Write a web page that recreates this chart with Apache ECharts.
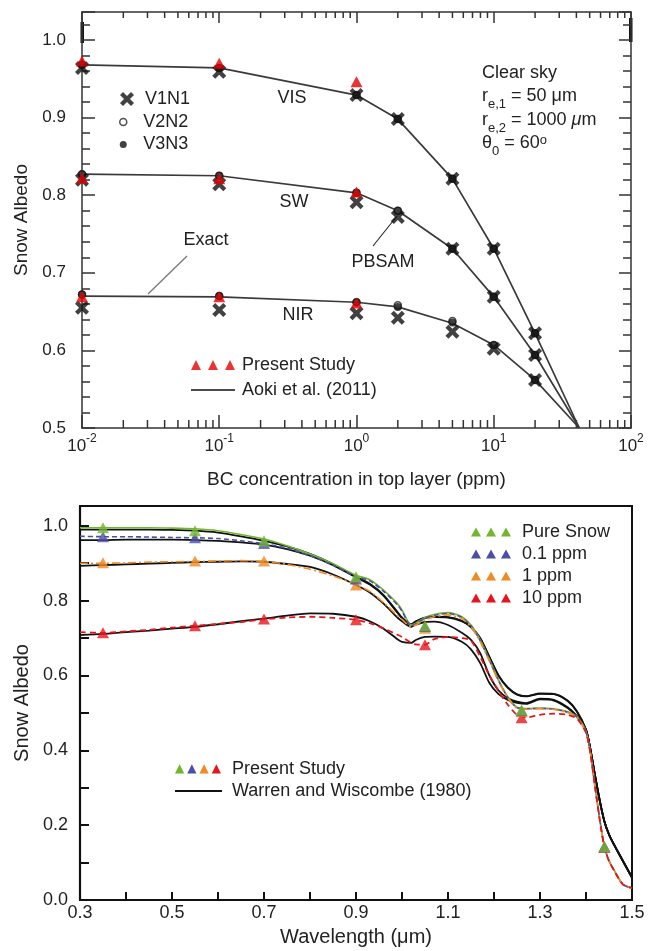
<!DOCTYPE html>
<html><head><meta charset="utf-8">
<script src="https://cdn.jsdelivr.net/npm/echarts@6/dist/echarts.min.js"></script>
<style>html,body{margin:0;padding:0;background:#fff}#c{width:648px;height:951px}</style>
</head><body><div id="c"></div>
<script>
// ===== Top panel: albedo vs BC concentration =====
const bcConc   = [0.01, 0.1, 1, 2, 5, 10, 20, 42];
const exactVIS = [0.968, 0.964, 0.929, 0.898, 0.821, 0.731, 0.622, 0.5];
const exactSW  = [0.827, 0.825, 0.803, 0.780, 0.731, 0.669, 0.594, 0.5];
const exactNIR = [0.670, 0.669, 0.662, 0.656, 0.635, 0.607, 0.562, 0.5];

const pbConc  = [0.01, 0.1, 1, 2, 5, 10, 20];
const v1n1VIS = [0.964, 0.959, 0.929, 0.898, 0.821, 0.731, 0.622];
const v1n1SW  = [0.820, 0.814, 0.791, 0.772, 0.731, 0.669, 0.594];
const v1n1NIR = [0.655, 0.652, 0.648, 0.642, 0.624, 0.602, 0.562];
const v2n2VIS = [0.968, 0.964, 0.929, 0.898, 0.821, 0.731, 0.622];
const v2n2SW  = [0.827, 0.825, 0.803, 0.780, 0.731, 0.669, 0.594];
const v2n2NIR = [0.672, 0.670, 0.662, 0.658, 0.638, 0.607, 0.562];
const v3n3VIS = [0.968, 0.964, 0.929, 0.898, 0.821, 0.731, 0.622];
const v3n3SW  = [0.827, 0.825, 0.803, 0.780, 0.731, 0.669, 0.594];
const v3n3NIR = [0.672, 0.670, 0.662, 0.656, 0.636, 0.607, 0.562];

const presentConc = [0.01, 0.1, 1];
const presentVIS  = [0.973, 0.970, 0.946];
const presentSW   = [0.822, 0.821, 0.804];
const presentNIR  = [0.669, 0.669, 0.661];

// ===== Bottom panel: spectral albedo =====
const wl = [0.30,0.35,0.40,0.45,0.50,0.55,0.60,0.65,0.70,0.75,0.80,0.85,0.90,0.93,0.96,0.99,1.00,1.02,1.03,1.05,1.07,1.10,1.13,1.15,1.17,1.19,1.21,1.23,1.25,1.27,1.30,1.33,1.36,1.38,1.40,1.41,1.42,1.43,1.44,1.45,1.46,1.48,1.50];
const psPure = [0.995,0.995,0.995,0.995,0.994,0.992,0.987,0.977,0.965,0.947,0.925,0.899,0.868,0.856,0.828,0.792,0.775,0.735,0.740,0.755,0.763,0.768,0.757,0.735,0.695,0.643,0.588,0.543,0.515,0.512,0.513,0.511,0.503,0.490,0.450,0.390,0.300,0.215,0.142,0.105,0.082,0.042,0.032];
const ps01   = [0.972,0.971,0.971,0.970,0.969,0.968,0.966,0.960,0.952,0.940,0.920,0.895,0.864,0.853,0.825,0.789,0.772,0.733,0.738,0.753,0.761,0.766,0.755,0.733,0.693,0.641,0.586,0.541,0.514,0.511,0.512,0.510,0.502,0.489,0.449,0.390,0.300,0.215,0.142,0.105,0.082,0.042,0.032];
const ps1    = [0.900,0.900,0.901,0.903,0.904,0.905,0.906,0.907,0.905,0.897,0.884,0.866,0.843,0.825,0.795,0.760,0.750,0.730,0.735,0.749,0.757,0.762,0.752,0.730,0.690,0.638,0.584,0.540,0.512,0.510,0.511,0.509,0.501,0.488,0.448,0.390,0.300,0.215,0.142,0.105,0.082,0.042,0.032];
const ps10   = [0.716,0.714,0.718,0.722,0.728,0.733,0.738,0.743,0.750,0.755,0.757,0.754,0.749,0.740,0.726,0.709,0.703,0.687,0.683,0.682,0.697,0.703,0.700,0.693,0.650,0.600,0.558,0.522,0.495,0.488,0.495,0.498,0.495,0.485,0.447,0.388,0.298,0.213,0.140,0.104,0.081,0.042,0.032];
const wwPure = [0.990,0.990,0.990,0.990,0.989,0.987,0.982,0.972,0.960,0.945,0.925,0.898,0.864,0.845,0.815,0.770,0.755,0.737,0.745,0.755,0.757,0.756,0.746,0.730,0.700,0.650,0.600,0.568,0.550,0.545,0.552,0.551,0.533,0.505,0.455,0.400,0.330,0.265,0.210,0.175,0.150,0.105,0.060];
const ww01   = [0.962,0.962,0.963,0.963,0.963,0.962,0.960,0.956,0.950,0.938,0.920,0.895,0.862,0.843,0.813,0.768,0.753,0.736,0.744,0.754,0.756,0.755,0.745,0.729,0.699,0.649,0.599,0.567,0.549,0.544,0.551,0.550,0.532,0.504,0.455,0.400,0.330,0.265,0.210,0.175,0.150,0.105,0.060];
const ww1    = [0.893,0.895,0.897,0.899,0.901,0.903,0.904,0.905,0.904,0.898,0.890,0.870,0.842,0.822,0.792,0.755,0.745,0.730,0.736,0.743,0.744,0.735,0.714,0.695,0.660,0.600,0.560,0.540,0.530,0.526,0.538,0.535,0.515,0.492,0.455,0.400,0.330,0.265,0.210,0.175,0.150,0.105,0.060];
const ww10   = [0.708,0.711,0.716,0.720,0.725,0.730,0.737,0.745,0.752,0.760,0.766,0.765,0.757,0.745,0.725,0.697,0.690,0.687,0.695,0.703,0.704,0.703,0.690,0.670,0.633,0.580,0.550,0.535,0.527,0.524,0.536,0.533,0.513,0.490,0.455,0.400,0.330,0.265,0.210,0.175,0.150,0.105,0.060];

const triWl     = [0.35, 0.55, 0.70, 0.90, 1.05, 1.26, 1.44];
const triPure   = [0.995, 0.987, 0.960, 0.864, 0.733, 0.508, 0.142];
const tri01     = [0.971, 0.968, 0.953, 0.858, 0.731, 0.506, 0.142];
const tri1      = [0.901, 0.906, 0.906, 0.842, 0.726, 0.503, 0.142];
const tri10     = [0.714, 0.733, 0.751, 0.749, 0.682, 0.487, 0.140];

const topYTicks = {min: 0.5, max: 1.036, interval: 0.1};
const botYTicks = {min: 0, max: 1.053, interval: 0.2};
const botXTicks = {min: 0.3, max: 1.5, interval: 0.1};

// ---------------------------------------------------
const FONT = '"Liberation Sans", Arial, Helvetica, sans-serif';
const pair = (xs, ys) => xs.map((x, i) => [x, ys[i]]);
const logMinor = [];
for (let e = -2; e < 2; e++) for (let m = 2; m <= 9; m++) logMinor.push(+(m * Math.pow(10, e)).toPrecision(3));

const C_GREEN = '#72b62e', C_BLUE = '#4b4fa6', C_ORANGE = '#f08a24', C_RED = '#e8141b';
const AX = '#333';
const xPath = 'path://M0,3L3,0L7,4L11,0L14,3L10,7L14,11L11,14L7,10L3,14L0,11L4,7Z';
const tri3 = 'path://M0,10L5,0L10,10Z M17,10L22,0L27,10Z M34,10L39,0L44,10Z';
const tri3b = 'path://M0,9L5,0L10,9Z M15,9L20,0L25,9Z M30,9L35,0L40,9Z';

const chart = echarts.init(document.getElementById('c'));

const topLine = (data) => ({
  type: 'line', name: 'Aoki et al. (2011)', xAxisIndex: 0, yAxisIndex: 0, data,
  showSymbol: false, symbol: 'none', color: '#3a3a3a',
  lineStyle: {color: '#3a3a3a', width: 1.7}, z: 2, silent: true
});
const botLine = (name, data, color, type, width, z) => ({
  type: 'line', name, xAxisIndex: 2, yAxisIndex: 2, data: pair(wl, data),
  showSymbol: false, symbol: 'none', smooth: 0.25, color,
  lineStyle: {color, width, type}, z, silent: true
});
const botTri = (name, data, color, z) => ({
  type: 'scatter', name, xAxisIndex: 2, yAxisIndex: 2, data: pair(triWl, data),
  symbol: 'triangle', symbolSize: [12, 11], color, itemStyle: {color}, z, silent: true
});

const option = {
  animation: false,
  backgroundColor: '#fff',
  textStyle: {fontFamily: FONT},
  grid: [
    {left: 82, top: 12, width: 549, height: 416},
    {left: 80, top: 506, width: 552, height: 394, show: true, borderColor: '#111', borderWidth: 2}
  ],
  xAxis: [
    {gridIndex: 0, type: 'log', logBase: 10, min: 0.01, max: 100,
     axisLine: {lineStyle: {color: AX, width: 1.5}},
     axisTick: {inside: true, length: 13, lineStyle: {color: AX, width: 1.5}},
     splitLine: {show: false},
     axisLabel: {margin: 5, color: '#222',
       formatter: v => '{b|10}{s|' + Math.round(Math.log10(v)) + '}',
       rich: {b: {fontSize: 17, lineHeight: 22, verticalAlign: 'bottom', fontFamily: FONT, color: '#222'},
              s: {fontSize: 12, lineHeight: 12, verticalAlign: 'top', fontFamily: FONT, color: '#222'}}},
     name: 'BC concentration in top layer (ppm)', nameLocation: 'middle', nameGap: 42,
     nameTextStyle: {fontSize: 19, color: '#222', fontFamily: FONT}},
    {gridIndex: 0, type: 'log', logBase: 10, min: 0.01, max: 100, position: 'top',
     axisLine: {lineStyle: {color: AX, width: 1.5}},
     axisTick: {inside: true, length: 11, lineStyle: {color: AX, width: 1.5}},
     axisLabel: {show: false}, splitLine: {show: false}},
    {gridIndex: 1, type: 'value', min: botXTicks.min, max: botXTicks.max, interval: botXTicks.interval,
     axisLine: {lineStyle: {color: '#111', width: 2.2}},
     axisTick: {inside: true, length: 8, lineStyle: {color: '#111', width: 2}},
     splitLine: {show: false},
     axisLabel: {margin: 4, fontSize: 18, color: '#222', fontFamily: FONT,
       formatter: v => (Math.round((v - 0.3) * 10) % 2 === 0 ? v.toFixed(1) : '')},
     name: 'Wavelength (μm)', nameLocation: 'middle', nameGap: 27,
     nameTextStyle: {fontSize: 20, color: '#222', fontFamily: FONT}}
  ],
  yAxis: [
    {gridIndex: 0, type: 'value', min: topYTicks.min, max: topYTicks.max, interval: topYTicks.interval,
     axisLine: {show: true, lineStyle: {color: AX, width: 1.5}},
     axisTick: {inside: true, length: 13, lineStyle: {color: AX, width: 1.5}},
     minorTick: {show: true, splitNumber: 5, length: 8, lineStyle: {color: AX, width: 1.5}},
     splitLine: {show: false},
     axisLabel: {margin: 16, fontSize: 17, color: '#222', fontFamily: FONT, showMaxLabel: false,
       formatter: v => v.toFixed(1)},
     name: 'Snow Albedo', nameLocation: 'middle', nameGap: 47, nameRotate: 90,
     nameTextStyle: {fontSize: 19, color: '#222', fontFamily: FONT}},
    {gridIndex: 0, type: 'value', position: 'right', min: topYTicks.min, max: topYTicks.max, interval: topYTicks.interval,
     axisLine: {show: true, lineStyle: {color: AX, width: 1.5}},
     axisTick: {inside: true, length: 12, lineStyle: {color: AX, width: 1.5}},
     minorTick: {show: true, splitNumber: 5, length: 8, lineStyle: {color: AX, width: 1.5}},
     splitLine: {show: false}, axisLabel: {show: false}},
    {gridIndex: 1, type: 'value', min: botYTicks.min, max: botYTicks.max, interval: botYTicks.interval,
     axisLine: {show: true, lineStyle: {color: '#111', width: 2.2}},
     axisTick: {inside: true, length: 9, lineStyle: {color: '#111', width: 2}},
     minorTick: {show: true, splitNumber: 2, length: 9, lineStyle: {color: '#111', width: 2}},
     splitLine: {show: false},
     axisLabel: {margin: 12, fontSize: 18, color: '#222', fontFamily: FONT, showMaxLabel: false,
       formatter: v => v.toFixed(1)},
     name: 'Snow Albedo', nameLocation: 'middle', nameGap: 46, nameRotate: 90,
     nameTextStyle: {fontSize: 20, color: '#222', fontFamily: FONT}}
  ],
  legend: [
    {data: [{name: 'V1N1'}], left: 120, top: 90, orient: 'vertical', padding: 0,
     itemWidth: 26, itemHeight: 14, selectedMode: false,
     textStyle: {fontSize: 18, color: '#222', fontFamily: FONT}},
    {data: [{name: 'V2N2', icon: 'circle', itemStyle: {color: '#fff', borderColor: '#222', borderWidth: 1.5}},
            {name: 'V3N3', icon: 'circle', itemStyle: {color: '#111'}}],
     left: 119, top: 113, orient: 'vertical', padding: 0, itemGap: 4.5,
     itemWidth: 24, itemHeight: 7, selectedMode: false,
     textStyle: {fontSize: 18, color: '#222', fontFamily: FONT, padding: [0, 0, 0, 3]}},
    {data: [{name: 'Present Study', icon: tri3},
            {name: 'Aoki et al. (2011)', icon: 'path://M0,0H44V1.6H0Z', itemStyle: {color: '#111'}}],
     left: 191, top: 356, orient: 'vertical', padding: 0, itemGap: 7,
     itemWidth: 44, itemHeight: 10, selectedMode: false,
     textStyle: {fontSize: 18, color: '#222', fontFamily: FONT, padding: [0, 0, 0, 2]}},
    {data: [{name: 'Pure Snow', icon: tri3b}, {name: '0.1 ppm', icon: tri3b},
            {name: '1 ppm', icon: tri3b}, {name: '10 ppm', icon: tri3b}],
     left: 471, top: 523, orient: 'vertical', padding: 0, itemGap: 4,
     itemWidth: 40, itemHeight: 9, selectedMode: false,
     textStyle: {fontSize: 18, color: '#222', fontFamily: FONT, padding: [0, 0, 0, 6]}},
    {data: [{name: 'Warren and Wiscombe (1980)', icon: 'path://M0,0H47V2H0Z', itemStyle: {color: '#111'}}],
     left: 175, top: 782, orient: 'vertical', padding: 0,
     itemWidth: 47, itemHeight: 2, selectedMode: false,
     textStyle: {fontSize: 18, color: '#222', fontFamily: FONT, padding: [0, 0, 0, 5]}}
  ],
  graphic: [
    {type: 'rect', shape: {x: 80.5, y: 22, width: 3.5, height: 21}, style: {fill: '#111'}},
    {type: 'rect', shape: {x: 629, y: 18, width: 3.5, height: 24}, style: {fill: '#111'}},
    {type: 'text', x: 292, y: 98, style: {text: 'VIS', fontSize: 18, fontFamily: FONT, fill: '#222', align: 'center', verticalAlign: 'middle'}},
    {type: 'text', x: 294, y: 202, style: {text: 'SW', fontSize: 18, fontFamily: FONT, fill: '#222', align: 'center', verticalAlign: 'middle'}},
    {type: 'text', x: 298, y: 315, style: {text: 'NIR', fontSize: 18, fontFamily: FONT, fill: '#222', align: 'center', verticalAlign: 'middle'}},
    {type: 'text', x: 206, y: 240, style: {text: 'Exact', fontSize: 18, fontFamily: FONT, fill: '#222', align: 'center', verticalAlign: 'middle'}},
    {type: 'line', shape: {x1: 187, y1: 256, x2: 148, y2: 294}, style: {stroke: '#777', lineWidth: 1.3}},
    {type: 'text', x: 383, y: 262, style: {text: 'PBSAM', fontSize: 18, fontFamily: FONT, fill: '#222', align: 'center', verticalAlign: 'middle'}},
    {type: 'line', shape: {x1: 397, y1: 216, x2: 373, y2: 246}, style: {stroke: '#222', lineWidth: 1.1}},
    {type: 'text', x: 482, y: 73, style: {text: 'Clear sky', fontSize: 18, fontFamily: FONT, fill: '#222', align: 'left', verticalAlign: 'middle'}},
    {type: 'text', x: 482, y: 99, style: {text: '{m|r}{s|e,1}{m| = 50 μm}', align: 'left', verticalAlign: 'middle',
      rich: {m: {fontSize: 18, lineHeight: 24, verticalAlign: 'top', fontFamily: FONT, fill: '#222'},
             s: {fontSize: 13, lineHeight: 12, verticalAlign: 'bottom', fontFamily: FONT, fill: '#222'}}}},
    {type: 'text', x: 482, y: 123, style: {text: '{m|r}{s|e,2}{m| = 1000 }{i|μ}{m|m}', align: 'left', verticalAlign: 'middle',
      rich: {m: {fontSize: 18, lineHeight: 24, verticalAlign: 'top', fontFamily: FONT, fill: '#222'},
             i: {fontSize: 18, lineHeight: 24, verticalAlign: 'top', fontFamily: FONT, fontStyle: 'italic', fill: '#222'},
             s: {fontSize: 13, lineHeight: 12, verticalAlign: 'bottom', fontFamily: FONT, fill: '#222'}}}},
    {type: 'text', x: 482, y: 146, style: {text: '{m|θ}{s|0}{m| = 60}{p|o}', align: 'left', verticalAlign: 'middle',
      rich: {m: {fontSize: 18, lineHeight: 24, verticalAlign: 'top', fontFamily: FONT, fill: '#222'},
             s: {fontSize: 13, lineHeight: 12, verticalAlign: 'bottom', fontFamily: FONT, fill: '#222'},
             p: {fontSize: 13, lineHeight: 12, verticalAlign: 'top', fontFamily: FONT, fill: '#222'}}}},
    {type: 'text', x: 175, y: 769, style: {text: '{g|▲}{b|▲}{o|▲}{r|▲}{t|Present Study}', align: 'left', verticalAlign: 'middle',
      rich: {g: {fontSize: 12, fontFamily: 'DejaVu Sans', fill: C_GREEN, padding: [0, 3, 0, 0]},
             b: {fontSize: 12, fontFamily: 'DejaVu Sans', fill: C_BLUE, padding: [0, 3, 0, 0]},
             o: {fontSize: 12, fontFamily: 'DejaVu Sans', fill: C_ORANGE, padding: [0, 3, 0, 0]},
             r: {fontSize: 12, fontFamily: 'DejaVu Sans', fill: C_RED, padding: [0, 3, 0, 0]},
             t: {fontSize: 18, fontFamily: FONT, fill: '#222', padding: [0, 0, 0, 8]}}}}
  ],
  series: [
    // log-axis minor ticks (2..9 per decade) on bottom and top of the upper panel
    {type: 'custom', xAxisIndex: 0, yAxisIndex: 0, silent: true, clip: false, z: 1,
     data: logMinor.map(v => [v, topYTicks.min]),
     renderItem: (params, api) => {
       const v = api.value(0);
       const b = api.coord([v, topYTicks.min]);
       const t = api.coord([v, topYTicks.max]);
       const st = {stroke: AX, lineWidth: 1.5};
       return {type: 'group', children: [
         {type: 'line', shape: {x1: b[0], y1: b[1], x2: b[0], y2: b[1] - 8}, style: st},
         {type: 'line', shape: {x1: t[0], y1: t[1], x2: t[0], y2: t[1] + 6}, style: st}
       ]};
     }},
    topLine(pair(bcConc, exactVIS)),
    topLine(pair(bcConc, exactSW)),
    topLine(pair(bcConc, exactNIR)),
    {type: 'scatter', name: 'V2N2', xAxisIndex: 0, yAxisIndex: 0,
     data: pair(pbConc, v2n2VIS).concat(pair(pbConc, v2n2SW), pair(pbConc, v2n2NIR)),
     symbol: 'circle', symbolSize: 7, itemStyle: {color: '#fff', borderColor: '#222', borderWidth: 1.5}, z: 3, silent: true},
    {type: 'scatter', name: 'V3N3', xAxisIndex: 0, yAxisIndex: 0,
     data: pair(pbConc, v3n3VIS).concat(pair(pbConc, v3n3SW), pair(pbConc, v3n3NIR)),
     symbol: 'circle', symbolSize: 8, itemStyle: {color: '#111'}, color: '#111', z: 4, silent: true},
    {type: 'scatter', name: 'V1N1', xAxisIndex: 0, yAxisIndex: 0,
     data: pair(pbConc, v1n1VIS).concat(pair(pbConc, v1n1SW), pair(pbConc, v1n1NIR)),
     symbol: xPath, symbolSize: 14, itemStyle: {color: '#111'}, color: '#111', z: 5, silent: true},
    {type: 'scatter', name: 'Present Study', xAxisIndex: 0, yAxisIndex: 0,
     data: pair(presentConc, presentVIS).concat(pair(presentConc, presentSW), pair(presentConc, presentNIR)),
     symbol: 'triangle', symbolSize: [12, 11], itemStyle: {color: '#e60000'}, color: '#e60000', z: 6, silent: true},

    botLine('Warren and Wiscombe (1980)', wwPure, '#111', 'solid', 1.8, 2),
    botLine('Warren and Wiscombe (1980)', ww01, '#111', 'solid', 1.8, 2),
    botLine('Warren and Wiscombe (1980)', ww1, '#111', 'solid', 1.8, 2),
    botLine('Warren and Wiscombe (1980)', ww10, '#111', 'solid', 1.8, 2),
    botLine('Pure Snow', psPure, C_GREEN, 'solid', 1.6, 3),
    botLine('0.1 ppm', ps01, C_BLUE, [5, 3], 1.6, 3),
    botLine('1 ppm', ps1, C_ORANGE, [8, 3, 2, 3], 1.6, 3),
    botLine('10 ppm', ps10, C_RED, [6, 4], 1.8, 3),
    botTri('10 ppm', tri10, C_RED, 5),
    botTri('1 ppm', tri1, C_ORANGE, 6),
    botTri('0.1 ppm', tri01, C_BLUE, 7),
    botTri('Pure Snow', triPure, C_GREEN, 8)
  ]
};
chart.setOption(option);
</script>
</body></html>
